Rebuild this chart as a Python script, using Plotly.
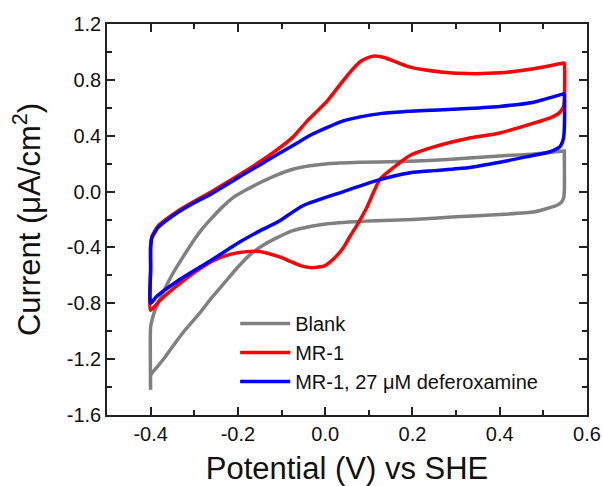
import plotly.graph_objects as go

# ---------------- data ----------------
# Blank
blank_fwd_v = [-0.400, -0.400, -0.396, -0.390, -0.380, -0.368, -0.345, -0.320, -0.299, -0.280,
               -0.260, -0.237, -0.214, -0.184, -0.145, -0.110, -0.074, -0.035, 0.005, 0.080,
               0.170, 0.250, 0.330, 0.400, 0.480, 0.548]
blank_fwd_i = [-1.42, -0.97, -0.91, -0.85, -0.78, -0.70, -0.565, -0.44, -0.34, -0.26,
               -0.19, -0.115, -0.05, 0.007, 0.07, 0.12, 0.16, 0.185, 0.20, 0.21,
               0.215, 0.225, 0.24, 0.255, 0.27, 0.29]
blank_rev_v = [0.548, 0.548, 0.546, 0.540, 0.530, 0.510, 0.480, 0.400, 0.300, 0.200,
               0.100, 0.005, -0.035, -0.074, -0.110, -0.145, -0.175, -0.200, -0.230, -0.260,
               -0.290, -0.322, -0.345, -0.368, -0.385, -0.397, -0.400, -0.400]
blank_rev_i = [0.29, 0.00, -0.05, -0.08, -0.10, -0.12, -0.145, -0.165, -0.18, -0.20,
               -0.21, -0.23, -0.25, -0.28, -0.33, -0.39, -0.46, -0.54, -0.65, -0.76,
               -0.88, -0.995, -1.09, -1.19, -1.255, -1.30, -1.32, -1.42]

# MR-1
mr1_fwd_v = [-0.400, -0.400, -0.400, -0.397, -0.390, -0.384, -0.365, -0.338, -0.300, -0.260,
             -0.220, -0.184, -0.149, -0.110, -0.074, -0.040, 0.005, 0.035, 0.064, 0.085,
             0.110, 0.135, 0.160, 0.190, 0.230, 0.270, 0.326, 0.400, 0.478, 0.547]
mr1_fwd_i = [-0.85, -0.55, -0.39, -0.32, -0.28, -0.25, -0.20, -0.14, -0.07, 0.00,
             0.075, 0.145, 0.215, 0.30, 0.39, 0.51, 0.65, 0.77, 0.88, 0.94,
             0.97, 0.96, 0.93, 0.895, 0.87, 0.855, 0.845, 0.85, 0.88, 0.92]
mr1_rev_v = [0.548, 0.548, 0.545, 0.535, 0.517, 0.478, 0.400, 0.326, 0.249, 0.195,
             0.168, 0.126, 0.096, 0.073, 0.057, 0.042, 0.020, 0.000, -0.030, -0.057,
             -0.080, -0.103, -0.149, -0.180, -0.218, -0.260, -0.300, -0.338, -0.379, -0.400]
mr1_rev_i = [0.92, 0.65, 0.60, 0.56, 0.53, 0.49, 0.42, 0.38, 0.32, 0.26,
             0.20, 0.09, -0.11, -0.24, -0.32, -0.40, -0.48, -0.53, -0.545, -0.53,
             -0.50, -0.47, -0.43, -0.43, -0.45, -0.50, -0.58, -0.67, -0.78, -0.85]

# MR-1, 27 uM deferoxamine
dfo_fwd_v = [-0.400, -0.400, -0.400, -0.397, -0.390, -0.384, -0.365, -0.338, -0.300, -0.260,
             -0.220, -0.184, -0.145, -0.110, -0.074, -0.030, 0.005, 0.040, 0.080, 0.130,
             0.195, 0.260, 0.326, 0.400, 0.478, 0.547]
dfo_fwd_i = [-0.80, -0.55, -0.40, -0.33, -0.29, -0.26, -0.21, -0.15, -0.08, -0.015,
             0.06, 0.13, 0.20, 0.265, 0.33, 0.41, 0.46, 0.505, 0.535, 0.56,
             0.575, 0.585, 0.595, 0.61, 0.64, 0.70]
dfo_rev_v = [0.548, 0.548, 0.546, 0.540, 0.533, 0.510, 0.478, 0.400, 0.326, 0.249,
             0.195, 0.119, 0.042, -0.050, -0.110, -0.149, -0.195, -0.260, -0.338, -0.386,
             -0.400]
dfo_rev_i = [0.70, 0.45, 0.38, 0.33, 0.31, 0.28, 0.26, 0.21, 0.17, 0.15,
             0.135, 0.08, 0.00, -0.10, -0.22, -0.28, -0.36, -0.49, -0.64, -0.75,
             -0.80]

series_names = ["Blank", "MR-1", "MR-1, 27 \u03bcM deferoxamine"]
series_colors = ["#808080", "#ff0000", "#0000ff"]

x_tickvals = [-0.4, -0.2, 0.0, 0.2, 0.4, 0.6]
x_ticktext = ["-0.4", "-0.2", "0.0", "0.2", "0.4", "0.6"]
y_tickvals = [-1.6, -1.2, -0.8, -0.4, 0.0, 0.4, 0.8, 1.2]
y_ticktext = ["-1.6", "-1.2", "-0.8", "-0.4", "0.0", "0.4", "0.8", "1.2"]

# ---------------- figure ----------------
FONT = "Arial, 'Liberation Sans', sans-serif"
loops = [
    (blank_fwd_v + blank_rev_v, blank_fwd_i + blank_rev_i),
    (mr1_fwd_v + mr1_rev_v, mr1_fwd_i + mr1_rev_i),
    (dfo_fwd_v + dfo_rev_v, dfo_fwd_i + dfo_rev_i),
]

fig = go.Figure()
for (xv, yv), name, color in zip(loops, series_names, series_colors):
    fig.add_trace(go.Scatter(x=xv, y=yv, mode="lines", name=name,
                             line=dict(color=color, width=3.5, shape="spline", smoothing=0.6)))

axis_common = dict(
    showgrid=False, zeroline=False, showline=True, linecolor="#222222", linewidth=1.5,
    mirror="allticks", ticks="inside", ticklen=8, tickwidth=1.5, tickcolor="#222222",
    tickfont=dict(family=FONT, size=20, color="#111111"), tickmode="array",
    automargin=False,
)

fig.update_layout(
    width=602, height=486,
    margin=dict(l=107, r=15, t=24, b=71),
    paper_bgcolor="white", plot_bgcolor="white",
    font=dict(family=FONT, color="#111111"),
    showlegend=True,
    legend=dict(x=0.267, y=0.284, xanchor="left", yanchor="top",
                bgcolor="rgba(0,0,0,0)", font=dict(family=FONT, size=20, color="#111111"),
                tracegroupgap=0, itemwidth=50),
    xaxis=dict(axis_common, range=[-0.5, 0.6], tickvals=x_tickvals, ticktext=x_ticktext,
               minor=dict(tickmode="linear", tick0=0, dtick=0.1, ticks="inside",
                          ticklen=5, tickwidth=1.5, tickcolor="#222222"),
               title=dict(text="Potential (V) vs SHE", font=dict(family=FONT, size=31, color="#111111"),
                          standoff=23)),
    yaxis=dict(axis_common, range=[-1.6, 1.2], tickvals=y_tickvals, ticktext=y_ticktext,
               minor=dict(tickmode="linear", tick0=0, dtick=0.2, ticks="inside",
                          ticklen=5, tickwidth=1.5, tickcolor="#222222"),
               title=dict(text="Current (\u03bcA/cm<sup>2</sup>)", font=dict(family=FONT, size=31, color="#111111"),
                          standoff=17)),
)

fig.write_html("out.html", config={"displayModeBar": False},
               post_script="document.body.style.margin='0';document.body.style.overflow='hidden';")
